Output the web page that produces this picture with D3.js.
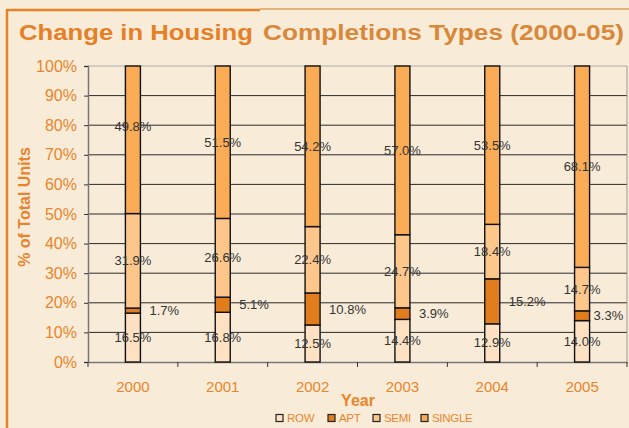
<!DOCTYPE html>
<html>
<head>
<meta charset="utf-8">
<script src="https://cdn.jsdelivr.net/npm/d3@7"></script>
<style>
  html, body { margin: 0; padding: 0; background: #F8ECD9; }
  svg { display: block; }
  text { font-family: Arial, "Liberation Sans", sans-serif; }
</style>
</head>
<body>
<svg id="main-svg" width="629" height="428"></svg>
<script>
// data
const years = ["2000", "2001", "2002", "2003", "2004", "2005"];
const types = ["ROW", "APT", "SEMI", "SINGLE"];
const rowVals = [16.5, 16.8, 12.5, 14.4, 12.9, 14.0];
const aptVals = [1.7, 5.1, 10.8, 3.9, 15.2, 3.3];
const semiVals = [31.9, 26.6, 22.4, 24.7, 18.4, 14.7];
const singleVals = [49.8, 51.5, 54.2, 57.0, 53.5, 68.1];
const yTicks = [0, 0.1, 0.2, 0.3, 0.4, 0.5, 0.6, 0.7, 0.8, 0.9, 1.0];

const svg = d3.select("#main-svg");
const font = "Arial, 'Liberation Sans', sans-serif";

// table for the stack
const table = years.map((yr, i) => ({
    year: yr,
    ROW: rowVals[i], APT: aptVals[i], SEMI: semiVals[i], SINGLE: singleVals[i]
}));

const color = d3.scaleOrdinal()
    .domain(types)
    .range(["#FDE1C2", "#E27D1E", "#FDC78B", "#F9AB55"]);

const orange = "#E8852C";

// plot box
const plotL = 88, plotR = 627, plotT = 66, plotB = 362;

const x = d3.scaleBand().domain(years).range([plotL, plotR]).padding(0);
const y = d3.scaleLinear().domain([0, 1]).range([plotB, plotT]);

// frame lines
svg.append("line")
    .attr("x1", 7).attr("x2", 260).attr("y1", 10).attr("y2", 10)
    .attr("stroke", "#E8822A").attr("stroke-width", 2.5);
svg.append("line")
    .attr("x1", 260).attr("x2", 629).attr("y1", 9).attr("y2", 9)
    .attr("stroke", "#E2B47A").attr("stroke-width", 2);
svg.append("line")
    .attr("x1", 7).attr("x2", 7).attr("y1", 9).attr("y2", 428)
    .attr("stroke", "#E8822A").attr("stroke-width", 2.5);

// title in two tones
svg.append("text")
    .attr("x", 19).attr("y", 40)
    .style("font-family", font)
    .attr("font-weight", "bold")
    .attr("font-size", "22px")
    .attr("fill", "#E67F25")
    .attr("textLength", 234)
    .attr("lengthAdjust", "spacingAndGlyphs")
    .text("Change in Housing");
svg.append("text")
    .attr("x", 263).attr("y", 40)
    .style("font-family", font)
    .attr("font-weight", "bold")
    .attr("font-size", "22px")
    .attr("fill", "#D9883A")
    .attr("textLength", 361)
    .attr("lengthAdjust", "spacingAndGlyphs")
    .text("Completions Types (2000-05)");

// gridlines
svg.append("g")
    .selectAll("line")
    .data(yTicks.filter(t => t > 0 && t < 1))
    .enter().append("line")
    .attr("x1", plotL).attr("x2", plotR)
    .attr("y1", d => y(d)).attr("y2", d => y(d))
    .attr("stroke", "#2a2a2a").attr("stroke-width", 1);

// top and right edges
svg.append("line")
    .attr("x1", plotL).attr("x2", plotR).attr("y1", plotT).attr("y2", plotT)
    .attr("stroke", "#aaa").attr("stroke-width", 1);
svg.append("line")
    .attr("x1", plotR).attr("x2", plotR).attr("y1", plotT).attr("y2", plotB)
    .attr("stroke", "#999").attr("stroke-width", 1);

// y axis
const yAxis = svg.append("g")
    .attr("transform", `translate(${plotL},0)`)
    .call(d3.axisLeft(y).tickValues(yTicks).tickFormat(d3.format(".0%")).tickSize(4).tickPadding(7));
yAxis.select(".domain").attr("stroke", "#777").attr("stroke-width", 1.5);
yAxis.selectAll(".tick line").attr("stroke", "#333");
yAxis.selectAll(".tick text")
    .attr("fill", orange)
    .style("font-family", font)
    .attr("font-size", "16px");

// x axis, ticks at band edges
const xAxis = svg.append("g")
    .attr("transform", `translate(0,${plotB})`)
    .call(d3.axisBottom(x).tickSize(0).tickPadding(19));
xAxis.select(".domain").attr("stroke", "#777").attr("stroke-width", 1.5);
xAxis.selectAll(".tick text")
    .attr("fill", orange)
    .style("font-family", font)
    .attr("font-size", "15px");
xAxis.selectAll(".edge")
    .data(years.concat(["end"]))
    .enter().append("line")
    .attr("class", "edge")
    .attr("x1", (d, i) => i < years.length ? x(d) : x.range()[1])
    .attr("x2", (d, i) => i < years.length ? x(d) : x.range()[1])
    .attr("y1", 0).attr("y2", 5)
    .attr("stroke", "#333");

// stacked bars
const stacked = d3.stack().keys(types).offset(d3.stackOffsetExpand)(table);
const barW = x.bandwidth() * 0.167;

const layers = svg.append("g")
    .selectAll("g")
    .data(stacked)
    .enter().append("g")
    .attr("fill", d => color(d.key));

layers.selectAll("rect")
    .data(d => d)
    .enter().append("rect")
    .attr("x", d => x(d.data.year) + x.bandwidth() / 2 - barW / 2)
    .attr("y", d => y(d[1]))
    .attr("width", barW)
    .attr("height", d => y(d[0]) - y(d[1]))
    .attr("stroke", "#111")
    .attr("stroke-width", 1.4);

// value labels
const labels = svg.append("g")
    .style("font-family", font)
    .attr("font-size", "13px")
    .attr("fill", "#333");

stacked.forEach(layer => {
    layer.forEach(d => {
        const val = d.data[layer.key];
        const cx = x(d.data.year) + x.bandwidth() / 2;
        let cy = (y(d[0]) + y(d[1])) / 2;
        const t = labels.append("text")
            .attr("dy", "0.35em")
            .text(val.toFixed(1) + "%");
        if (layer.key === "APT") {
            // outside to the right of the bar
            let gap = d.data.year === "2005" ? 4 : 9;
            t.attr("x", cx + barW / 2 + gap).attr("y", cy).attr("text-anchor", "start");
        } else {
            if (layer.key === "SINGLE" && d.data.year === "2000") cy -= 13;
            t.attr("x", cx).attr("y", cy).attr("text-anchor", "middle");
        }
    });
});

// y axis title
svg.append("text")
    .attr("transform", `translate(30,${(plotT + plotB) / 2 - 7}) rotate(-90)`)
    .attr("text-anchor", "middle")
    .style("font-family", font)
    .attr("font-weight", "bold")
    .attr("font-size", "16px")
    .attr("fill", orange)
    .text("% of Total Units");

// x axis title
svg.append("text")
    .attr("x", 358).attr("y", 406)
    .attr("text-anchor", "middle")
    .style("font-family", font)
    .attr("font-weight", "bold")
    .attr("font-size", "16px")
    .attr("fill", orange)
    .text("Year");

// legend
const legendX = [276, 328, 373, 421];
const legend = svg.append("g")
    .selectAll("g")
    .data(types)
    .enter().append("g")
    .attr("transform", (d, i) => `translate(${legendX[i]},418)`);

legend.append("rect")
    .attr("x", 0).attr("y", -3.5)
    .attr("width", 7).attr("height", 7)
    .attr("fill", d => color(d))
    .attr("stroke", "#222").attr("stroke-width", 1.2);

legend.append("text")
    .attr("x", 11).attr("y", 0).attr("dy", "0.35em")
    .style("font-family", font)
    .attr("font-size", "11.5px")
    .attr("letter-spacing", "-0.3")
    .attr("fill", orange)
    .text(d => d);
</script>
</body>
</html>
